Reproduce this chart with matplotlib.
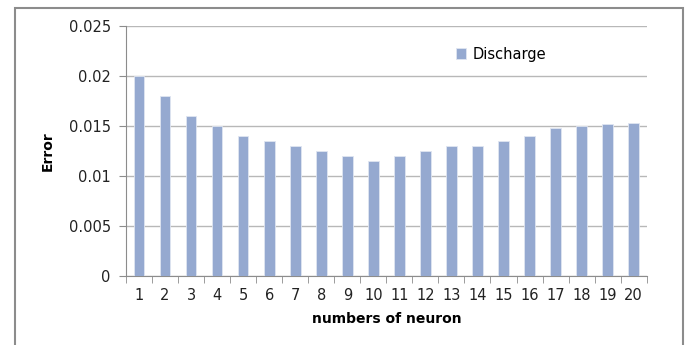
import matplotlib.pyplot as plt
from matplotlib.patches import Rectangle

# error for each hidden-layer size
neurons = list(range(1, 21))
errors = [0.0200, 0.0180, 0.0160, 0.0150, 0.0140, 0.0135, 0.0130, 0.0125, 0.0120, 0.0115,
          0.0120, 0.0125, 0.0130, 0.0130, 0.0135, 0.0140, 0.0148, 0.0150, 0.0152, 0.0153]
y_ticks = [0, 0.005, 0.01, 0.015, 0.02, 0.025]
y_labels = ['0', '0.005', '0.01', '0.015', '0.02', '0.025']

plt.rcParams['font.family'] = ['DejaVu Sans']

fig = plt.figure(figsize=(6.88, 3.45), dpi=100)
ax = fig.add_axes([0.1831, 0.2009, 0.7569, 0.7237])

# outer chart border
fig.patches.append(Rectangle((15 / 688, -0.1), 668 / 688, 1.1 - 8 / 345,
                             transform=fig.transFigure, fill=False,
                             edgecolor='#8c8c8c', linewidth=1.5))

ax.bar(neurons, errors, width=0.41, color='#95a9d0', edgecolor='#dfe5f1',
       linewidth=0.6, label='Discharge', zorder=3)

ax.set_xlim(0.5, 20.5)
ax.set_ylim(0, 0.025)
ax.set_yticks(y_ticks)
ax.set_yticklabels(y_labels, fontsize=10.5, color='#222222')
ax.set_xticks(neurons)
ax.set_xticklabels([str(n) for n in neurons], fontsize=10.5, color='#222222')
ax.set_xticks([n + 0.5 for n in range(0, 21)], minor=True)
ax.tick_params(axis='x', which='major', length=0, pad=9)
ax.tick_params(axis='x', which='minor', length=5, color='#8c8c8c', direction='out')
ax.tick_params(axis='y', length=5, color='#8c8c8c', pad=6)

ax.grid(axis='y', color='#b8b8b8', linewidth=1.0, zorder=0)
for side in ['top', 'right']:
    ax.spines[side].set_visible(False)
for side in ['left', 'bottom']:
    ax.spines[side].set_color('#8c8c8c')

ax.set_xlabel('numbers of neuron', fontsize=10, fontweight='bold', labelpad=6)
ax.set_ylabel('Error', fontsize=10, fontweight='bold', labelpad=10)

ax.legend(loc='center left', bbox_to_anchor=(443 / 688, 1 - 54 / 345),
          bbox_transform=fig.transFigure, frameon=False, fontsize=10.5,
          handlelength=0.7, handleheight=0.7, handletextpad=0.4)

fig.savefig('out.png', dpi=100)
